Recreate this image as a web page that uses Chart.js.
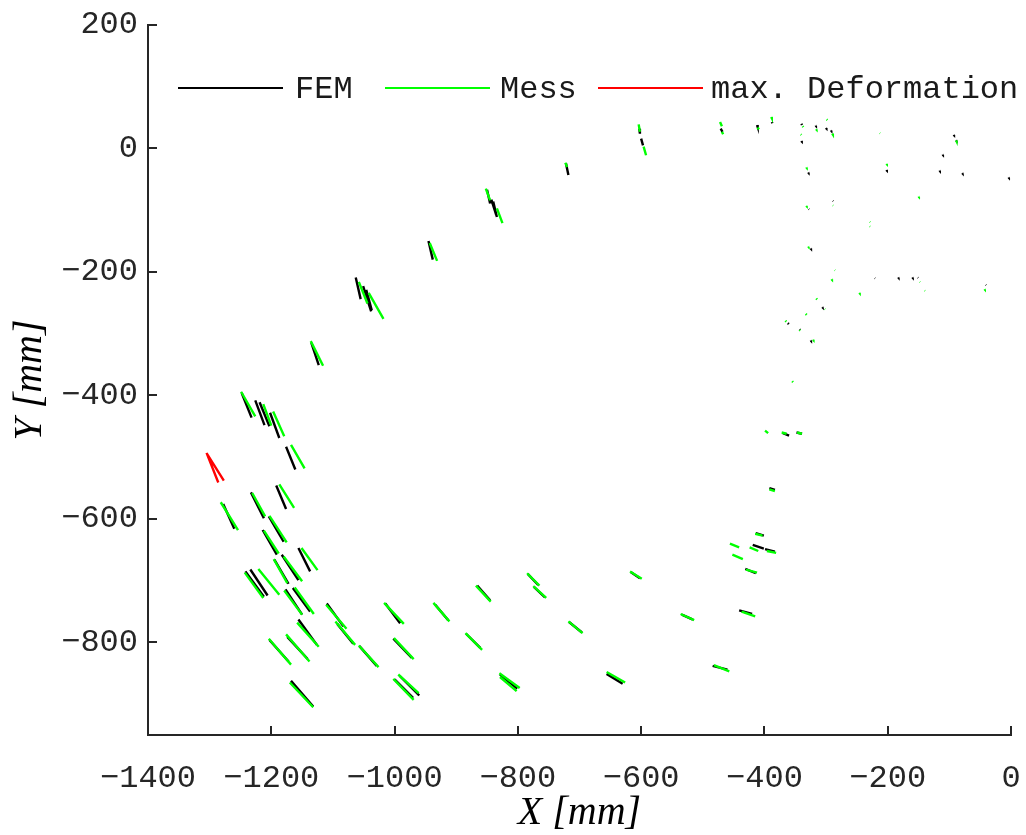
<!DOCTYPE html>
<html>
<head>
<meta charset="utf-8">
<script src="https://cdn.jsdelivr.net/npm/chart.js@4.4.1/dist/chart.umd.min.js"></script>
<style>
  html, body { margin: 0; padding: 0; background: #ffffff; }
</style>
</head>
<body>
<canvas id="myChart" width="1026" height="835"></canvas>
<script>
// axis limits in mm
const xLimits = [-1400, 0];
const yLimits = [-950, 200];
const tickStep = 200;

// FEM displacement segments, [x1, y1, x2, y2] in mm
const femSegments = [
  [-1248, -396, -1232, -436], [-1226, -408, -1211, -448], [-1219, -411, -1203, -450],
  [-1202, -428, -1187, -469], [-1176, -483, -1161, -520], [-1192, -546, -1176, -584],
  [-1278, -576, -1260, -616], [-1233, -557, -1212, -599], [-1204, -596, -1180, -637],
  [-1214, -618, -1191, -658], [-1156, -647, -1137, -685], [-1195, -666, -1172, -705],
  [-1183, -658, -1156, -699], [-1242, -685, -1212, -726], [-1234, -682, -1206, -724],
  [-1177, -714, -1150, -755], [-1165, -712, -1137, -750], [-1110, -737, -1083, -774],
  [-1093, -770, -1067, -802], [-1156, -763, -1126, -804], [-1203, -796, -1172, -831],
  [-1174, -791, -1141, -827], [-1057, -806, -1029, -838], [-1015, -737, -991, -769],
  [-1002, -794, -972, -825], [-1168, -862, -1132, -904], [-1000, -860, -970, -890],
  [-992, -854, -960, -886], [-934, -739, -913, -764], [-884, -786, -861, -809],
  [-866, -708, -845, -732], [-784, -689, -767, -707], [-774, -710, -756, -727],
  [-717, -767, -696, -784], [-829, -852, -801, -875], [-656, -851, -630, -867],
  [-617, -686, -602, -696], [-534, -755, -516, -763], [-441, -748, -420, -754],
  [-431, -681, -414, -688], [-484, -838, -460, -844], [-370, -461, -360, -465],
  [-348, -460, -339, -462], [-392, -550, -383, -553], [-414, -623, -401, -627],
  [-419, -642, -401, -648], [-399, -649, -383, -653], [-1135, -315, -1123, -351],
  [-1063, -209, -1055, -244], [-1051, -223, -1038, -264], [-1046, -229, -1037, -262],
  [-945, -150, -938, -180], [-850, -67, -845, -89], [-843, -83, -835, -108],
  [-840, -86, -834, -111], [-722, -24, -718, -43], [-603, 32, -602, 24],
  [-600, 16, -597, 5], [-471, 32, -468, 27], [-412, 38, -411, 35],
  [-388, 43, -387, 41], [-340, 40, -339, 38], [-362, -283, -360.5, -284.5],
  [-343, -293, -342, -294],
  // barely visible ones on the right side
  [-340, 12, -339.5, 11.5], [-317, 37, -316.5, 36.5], [-300, 33, -299.5, 32.5], [-292, 29, -291.5, 28.5],
  [-93, 22, -92.5, 21.5], [-89, 13, -88.5, 12.5], [-111, -10, -110.5, -10.5], [-202, -35, -201.5, -35.5],
  [-116, -36, -115.5, -36.5], [-79, -40, -78.5, -40.5], [-4, -47, -3.5, -47.5], [-329, -39, -328.5, -39.5],
  [-289, -85, -288.5, -85.5], [-328, -98, -327.5, -98.5], [-325, -162, -324.5, -162.5],
  [-221, -210, -220.5, -210.5], [-183, -209, -182.5, -209.5], [-160, -209, -159.5, -209.5],
  [-151, -209, -150.5, -209.5], [-41, -221, -40.5, -221.5], [-306, -257, -305.5, -257.5],
  [-325, -311, -324.5, -311.5]
];

// measured displacement segments
const messSegments = [
  [-1249, -394, -1226, -434], [-1213, -414, -1200, -449], [-1197, -426, -1179, -466],
  [-1168, -480, -1146, -518], [-1187, -544, -1163, -582], [-1282, -573, -1254, -618],
  [-1231, -558, -1210, -596], [-1203, -595, -1175, -638], [-1212, -619, -1188, -656],
  [-1151, -647, -1125, -683], [-1196, -665, -1174, -704], [-1180, -661, -1150, -701],
  [-1243, -687, -1213, -728], [-1221, -681, -1187, -723], [-1179, -716, -1150, -755],
  [-1162, -711, -1131, -754], [-1111, -739, -1078, -778], [-1096, -766, -1064, -804],
  [-1158, -768, -1123, -807], [-1204, -794, -1168, -836], [-1176, -787, -1138, -831],
  [-1058, -805, -1026, -840], [-1017, -736, -985, -770], [-1001, -793, -969, -827],
  [-1170, -865, -1132, -905], [-1002, -859, -969, -893], [-994, -852, -961, -882],
  [-937, -736, -911, -766], [-885, -785, -858, -812], [-868, -708, -844, -734],
  [-785, -688, -765, -708], [-775, -709, -754, -728], [-718, -766, -695, -785],
  [-830, -850, -797, -874], [-829, -856, -802, -879], [-656, -848, -626, -865],
  [-618, -685, -599, -697], [-536, -754, -514, -764], [-437, -750, -415, -758],
  [-430, -682, -412, -687], [-482, -837, -457, -847], [-399, -457, -394, -461],
  [-372, -460, -364, -462], [-347, -460, -339, -462], [-392, -552, -383, -555],
  [-415, -624, -403, -627], [-456, -640, -441, -646], [-424, -646, -410, -652],
  [-396, -652, -381, -655], [-452, -658, -435, -665], [-355, -377, -353.5, -378.5],
  [-1136, -312, -1116, -352], [-1058, -216, -1044, -251], [-1042, -234, -1018, -276],
  [-943, -153, -931, -182], [-852, -65, -845, -84], [-834, -97, -825, -121],
  [-723, -23, -720, -30], [-604, 39, -602, 27], [-596, 3, -592, -11],
  [-472, 43, -469, 36], [-469, 27, -467, 23], [-411, 34, -409, 31],
  [-389, 51, -388, 49], [-338, 36, -337, 34.5], [-341, 23, -340, 22],
  [-316, 31, -315.5, 30.5], [-299, 47, -298, 46], [-290, 24, -289, 22.5],
  [-316, -243, -314.5, -244.5], [-366, -279, -364.5, -280.5], [-333, -268, -331.5, -269.5],
  // barely visible ones on the right side
  [-213, 25, -212.5, 24.5], [-89, 13, -88.5, 12], [-202, -25, -201.5, -25.5], [-332, -31, -331.5, -31.5],
  [-150, -78, -149.5, -78.5], [-289, -92, -288.5, -92.5], [-332, -93, -331.5, -93.5],
  [-229, -119, -228.5, -119.5], [-229, -126, -228.5, -126.5], [-329, -159, -328.5, -159.5],
  [-286, -197, -285.5, -197.5], [-291, -212, -290.5, -212.5], [-148, -216, -147.5, -216.5],
  [-140, -230, -139.5, -230.5], [-43, -228, -42.5, -228.5], [-246, -234, -245.5, -234.5],
  [-302, -260, -301.5, -260.5], [-343, -294, -342, -295], [-321, -310, -320.5, -310.5]
];

// point with the largest deformation
const maxDefSegments = [
  [-1305, -493, -1286, -541],
  [-1304, -495, -1277, -538]
];

// turn [x1,y1,x2,y2] lists into points with a gap after every segment
const toPoints = (segs) => {
  const pts = [];
  segs.forEach(s => {
    pts.push({x: s[0], y: s[1]});
    pts.push({x: s[2], y: s[3]});
    pts.push({x: null, y: null});
  });
  return pts;
};

const minusFmt = (v) => (v < 0 ? '\u2212' + Math.abs(v) : String(v));
const axisColor = '#262626';
const tickFont = {family: 'Liberation Mono', size: 32};

// MATLAB style tick marks pointing into the axes
const innerTicks = {
  id: 'innerTicks',
  afterDraw(chart) {
    const {ctx, chartArea: a, scales} = chart;
    ctx.save();
    ctx.strokeStyle = axisColor;
    ctx.lineWidth = 2;
    ctx.beginPath();
    scales.x.ticks.forEach(t => {
      const px = Math.round(scales.x.getPixelForValue(t.value));
      ctx.moveTo(px, a.bottom);
      ctx.lineTo(px, a.bottom - 9);
    });
    scales.y.ticks.forEach(t => {
      const py = Math.round(scales.y.getPixelForValue(t.value));
      ctx.moveTo(a.left, py);
      ctx.lineTo(a.left + 9, py);
    });
    ctx.stroke();
    ctx.restore();
  }
};

// horizontal legend sitting inside the plot area
const legendLineStart = [30, 237, 450];
const insideLegend = {
  id: 'insideLegend',
  afterDraw(chart) {
    const {ctx, chartArea: a} = chart;
    ctx.save();
    ctx.font = '32px "Liberation Mono"';
    ctx.textBaseline = 'middle';
    const ly = a.top + 63;
    chart.data.datasets.forEach((ds, i) => {
      const lx = a.left + legendLineStart[i];
      ctx.strokeStyle = ds.borderColor;
      ctx.lineWidth = 2;
      ctx.beginPath();
      ctx.moveTo(lx, ly);
      ctx.lineTo(lx + 105, ly);
      ctx.stroke();
      ctx.fillStyle = '#1a1a1a';
      ctx.fillText(ds.label, lx + 117 - i * 2, ly + 2);
    });
    ctx.restore();
  }
};

const ctx = document.getElementById('myChart').getContext('2d');
new Chart(ctx, {
  type: 'scatter',
  data: {
    datasets: [
      {label: 'FEM', data: toPoints(femSegments), borderColor: '#000000', backgroundColor: '#000000',
       borderWidth: 2.4, showLine: true, pointRadius: 0, spanGaps: false, order: 3},
      {label: 'Mess', data: toPoints(messSegments), borderColor: '#00ff00', backgroundColor: '#00ff00',
       borderWidth: 2.4, showLine: true, pointRadius: 0, spanGaps: false, order: 2},
      {label: 'max. Deformation', data: toPoints(maxDefSegments), borderColor: '#ff0000', backgroundColor: '#ff0000',
       borderWidth: 2.4, showLine: true, pointRadius: 0, spanGaps: false, order: 1}
    ]
  },
  options: {
    responsive: false,
    animation: false,
    devicePixelRatio: 1,
    layout: {padding: {top: 25, right: 15, left: 0, bottom: 0}},
    plugins: {
      legend: {display: false},
      tooltip: {enabled: false}
    },
    scales: {
      x: {
        type: 'linear',
        min: xLimits[0],
        max: xLimits[1],
        grid: {display: false, drawTicks: false},
        border: {display: true, color: axisColor, width: 2},
        ticks: {stepSize: tickStep, includeBounds: false, autoSkip: false, maxRotation: 0,
                padding: 24, color: axisColor, font: tickFont, callback: minusFmt},
        title: {display: true, text: 'X [mm]', color: '#000000',
                font: {family: 'Liberation Serif', size: 40, style: 'italic', lineHeight: 1.1},
                padding: {top: 0, bottom: 0}},
        afterFit: (s) => { s.height = 100; s.paddingLeft = 0; s.paddingRight = 0; }
      },
      y: {
        type: 'linear',
        min: yLimits[0],
        max: yLimits[1],
        grid: {display: false, drawTicks: false},
        border: {display: true, color: axisColor, width: 2},
        ticks: {stepSize: tickStep, includeBounds: false, autoSkip: false,
                padding: 10, color: axisColor, font: tickFont, callback: minusFmt},
        title: {display: true, text: 'Y [mm]', color: '#000000',
                font: {family: 'Liberation Serif', size: 40, style: 'italic', lineHeight: 1.1},
                padding: {top: 8, bottom: 0}},
        afterFit: (s) => { s.width = 148; s.paddingTop = 0; s.paddingBottom = 0; }
      }
    }
  },
  plugins: [innerTicks, insideLegend]
});
</script>
</body>
</html>
